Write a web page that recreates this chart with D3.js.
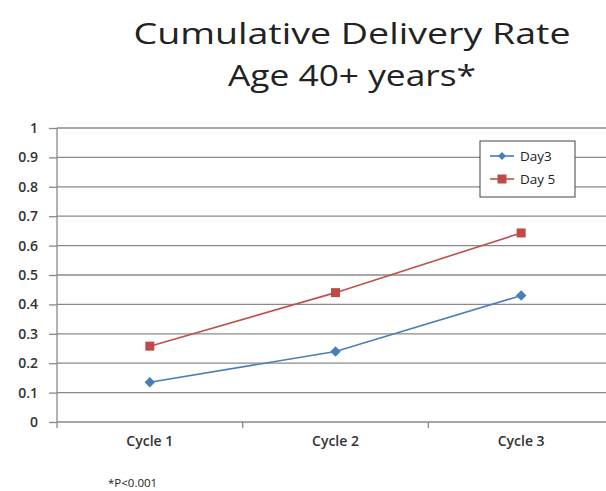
<!DOCTYPE html>
<html><head><meta charset="utf-8">
<script src="https://cdn.jsdelivr.net/npm/d3@7"></script>
<style>body{margin:0;background:#fff}svg{display:block}</style>
</head><body>
<svg id="c" width="606" height="491"></svg>
<script>
const categories = ["Cycle 1", "Cycle 2", "Cycle 3"];
const day3 = [0.135, 0.24, 0.43];
const day5 = [0.258, 0.44, 0.643];
const yTicks = [0, 0.1, 0.2, 0.3, 0.4, 0.5, 0.6, 0.7, 0.8, 0.9, 1];
const seriesNames = ["Day3", "Day 5"];
const titleLines = ["Cumulative Delivery Rate", "Age 40+ years*"];
const footnote = "*P<0.001";

(function () {
const svg = d3.select("#c");
const pL = 57, pR = 614, pT = 128, pB = 422;
const x = d3.scaleBand().domain(categories).range([pL, pR]);
const y = d3.scaleLinear().domain([0, 1]).range([pB, pT]);
const font = "'Open Sans', 'DejaVu Sans', sans-serif";

// title
const tLens = [437, 248];
svg.selectAll("text.title").data(titleLines).enter().append("text")
  .attr("x", 352).attr("y", (d, i) => 44 + i * 42)
  .attr("text-anchor", "middle").attr("font-family", font)
  .attr("font-size", 30).attr("fill", "#222")
  .attr("textLength", (d, i) => tLens[i]).attr("lengthAdjust", "spacingAndGlyphs")
  .text(d => d);

// gridlines
svg.append("g").selectAll("line").data(yTicks.filter(d => d > 0)).enter().append("line")
  .attr("x1", pL).attr("x2", 606).attr("y1", d => y(d)).attr("y2", d => y(d))
  .attr("stroke", "#8a8a8a").attr("stroke-width", 1.3);

// y axis
const ya = svg.append("g").attr("transform", `translate(${pL},0)`)
  .call(d3.axisLeft(y).tickValues(yTicks).tickSize(8).tickPadding(11).tickFormat(d => d3.format("")(d)));
ya.select(".domain").attr("stroke", "#8a8a8a").attr("stroke-width", 1.3).attr("d", `M0,${pT}V${pB + 6}`);
ya.selectAll(".tick line").attr("stroke", "#8a8a8a").attr("stroke-width", 1.3);
ya.selectAll(".tick text").attr("font-family", font).attr("font-size", 14).attr("fill", "#333").attr("font-weight", 600);

// x axis
const xa = svg.append("g").attr("transform", `translate(0,${pB})`)
  .call(d3.axisBottom(x).tickSize(0).tickPadding(14).tickFormat(d => d));
xa.select(".domain").attr("stroke", "#8a8a8a").attr("stroke-width", 1.3).attr("d", `M${pL},0H606`);
xa.selectAll(".tick text").attr("font-family", font).attr("font-size", 14).attr("fill", "#333").attr("font-weight", 600);
svg.append("g").selectAll("line").data(categories.slice(1)).enter().append("line")
  .attr("x1", d => x(d)).attr("x2", d => x(d)).attr("y1", pB).attr("y2", pB + 6)
  .attr("stroke", "#8a8a8a").attr("stroke-width", 1.3);

const cx = d => x(d) + x.bandwidth() / 2;
const line = d3.line().x((d, i) => cx(categories[i])).y(d => y(d));
const blue = "#4a7ebb", red = "#c0504d";

svg.append("path").datum(day5).attr("d", line).attr("fill", "none").attr("stroke", red).attr("stroke-width", 1.6);
svg.append("path").datum(day3).attr("d", line).attr("fill", "none").attr("stroke", blue).attr("stroke-width", 1.6);

svg.append("g").selectAll("rect").data(day5).enter().append("rect")
  .attr("x", (d, i) => cx(categories[i]) - 4.5).attr("y", d => y(d) - 4.5)
  .attr("width", 9).attr("height", 9).attr("fill", "#be4b48");
const diamond = d3.symbol().type(d3.symbolDiamond2).size(70);
svg.append("g").selectAll("path").data(day3).enter().append("path")
  .attr("d", diamond).attr("transform", (d, i) => `translate(${cx(categories[i])},${y(d)})`)
  .attr("fill", blue);

// legend
const lg = svg.append("g").attr("transform", "translate(480,141)");
lg.append("rect").attr("width", 95).attr("height", 56).attr("fill", "#fff").attr("stroke", "#444").attr("stroke-width", 1);
const items = [{n: seriesNames[0], c: blue, s: "d"}, {n: seriesNames[1], c: red, s: "r"}];
items.forEach((it, i) => {
  const yy = 15 + i * 23;
  lg.append("line").attr("x1", 10).attr("x2", 34).attr("y1", yy).attr("y2", yy).attr("stroke", it.c).attr("stroke-width", 1.6);
  if (it.s === "d") lg.append("path").attr("d", d3.symbol().type(d3.symbolDiamond2).size(40)).attr("transform", `translate(22,${yy})`).attr("fill", it.c);
  else lg.append("rect").attr("x", 17.5).attr("y", yy - 4.5).attr("width", 9).attr("height", 9).attr("fill", "#be4b48");
  lg.append("text").attr("x", 40).attr("y", yy + 5).attr("font-family", font).attr("font-size", 13.5).attr("fill", "#222").text(it.n);
});

svg.append("text").attr("x", 108).attr("y", 487).attr("font-family", font).attr("font-size", 11.5).attr("fill", "#222").text(footnote);
})();
</script>
</body></html>
